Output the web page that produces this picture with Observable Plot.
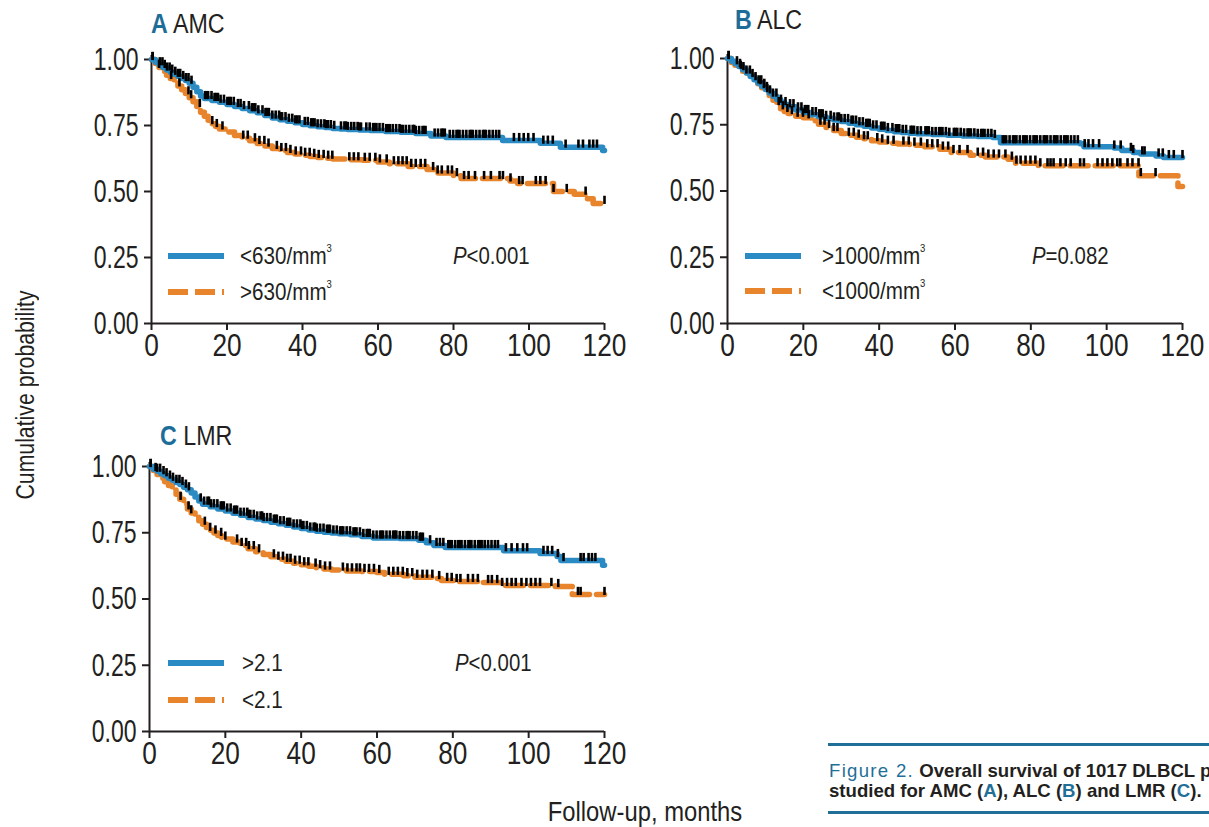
<!DOCTYPE html>
<html><head><meta charset="utf-8">
<script src="https://cdn.jsdelivr.net/npm/d3@7"></script>
<script src="https://cdn.jsdelivr.net/npm/@observablehq/plot@0.6"></script>
<style>
html,body{margin:0;padding:0;background:#fff;width:1209px;height:827px;overflow:hidden;}
body{position:relative;font-family:"Liberation Sans",Arial,sans-serif;color:#231f20;}
.abs{position:absolute;white-space:nowrap;}
.abs > span.n{display:inline-block;transform-origin:left center;}
.panel{position:absolute;}
.panel svg{max-width:none !important;}
.ttl{font-size:27px;line-height:1;}
.ttl b{color:#1c6e99;}
.lg{font-size:24px;line-height:1;transform:translateY(-50%);}
.lg sup{font-size:11px;vertical-align:top;position:relative;top:-1px;}
.sw{position:absolute;}
.cap{font-family:"Liberation Sans",Arial,sans-serif;font-weight:bold;font-size:18.6px;line-height:20px;color:#231f20;}
.cap .b{color:#1f6f98;font-weight:normal;letter-spacing:1.3px;}
.cap .c{color:#1f6f98;}
</style></head><body>
<script>
// ---------------- data ----------------
const xTicks = [0, 20, 40, 60, 80, 100, 120];
const yTicks = [0, 0.25, 0.5, 0.75, 1];

// Panel A: AMC  (Kaplan-Meier step knots [month, survival])
const amcLowSteps = [[0,1],[1,0.99],[2,0.98],[3,0.97],[4,0.96],[5,0.952],[6,0.944],[7,0.936],[8,0.928],[9,0.92],[10,0.91],[11,0.895],[12,0.878],[13,0.862],[14,0.852],[16,0.845],[18,0.838],[20,0.83],[22,0.822],[24,0.814],[26,0.806],[28,0.798],[30,0.788],[32,0.778],[34,0.772],[36,0.766],[38,0.76],[40,0.754],[42,0.749],[44,0.745],[46,0.742],[48,0.739],[50,0.737],[52,0.735],[55,0.733],[58,0.731],[62,0.727],[66,0.724],[70,0.72],[74,0.71],[78,0.705],[93,0.693],[103,0.683],[108.3,0.668],[119.5,0.655],[120,0.655]];
const amcHighSteps = [[0,1],[1,0.985],[2,0.97],[3,0.955],[4,0.94],[5,0.928],[6,0.915],[7,0.9],[8,0.885],[9,0.87],[10,0.855],[11,0.84],[12,0.822],[13,0.8],[14,0.785],[15,0.77],[16,0.757],[17,0.746],[18,0.737],[20,0.725],[22,0.712],[24,0.702],[26,0.692],[28,0.682],[30,0.672],[32,0.663],[34,0.655],[36,0.648],[38,0.642],[40,0.637],[42,0.633],[44,0.629],[46,0.626],[48,0.623],[52,0.62],[56,0.618],[60,0.612],[63,0.605],[68,0.595],[73,0.583],[75,0.57],[80,0.56],[82,0.549],[95,0.54],[97,0.53],[106.5,0.5],[112,0.49],[115.5,0.473],[117,0.455],[120,0.455]];
const amcLowCensor = [0.3,2.2,2.9,3.5,4.1,4.8,5.5,6.3,7.0,7.6,8.4,9.1,9.8,10.6,14.2,14.6,15.0,15.9,16.7,17.1,17.6,18.3,19.2,20.1,20.6,21.0,21.8,22.9,23.6,24.5,25.8,26.6,27.0,27.5,28.3,29.4,30.2,30.6,31.1,32.0,32.9,33.8,34.2,34.6,35.5,36.4,37.3,38.1,38.6,39.2,40.6,41.4,42.3,42.7,43.2,44.0,44.9,45.8,46.2,46.7,47.5,48.4,50.2,51.1,51.5,52.0,52.9,53.7,54.6,55.0,55.5,56.9,57.8,58.7,59.1,59.6,60.4,61.3,62.2,62.6,63.1,63.9,64.8,65.7,66.1,66.6,67.4,68.3,69.2,69.6,70.0,70.9,71.8,72.2,72.6,75.0,75.9,76.8,77.2,77.7,79.0,79.9,80.8,81.2,81.6,82.5,83.4,84.3,84.7,85.1,86.0,86.9,87.8,88.2,88.6,89.5,90.4,91.3,92.1,96.0,97.4,98.6,99.8,101.2,103.8,105.0,106.3,109.7,113.1,114.3,116.0,117.0,118.0];
const amcHighCensor = [0.3,2.0,5.2,7.4,9.8,10.5,12.8,16.1,17.3,18.8,24.3,25.5,27.4,28.6,29.9,31.0,33.2,34.4,35.6,36.8,38.2,39.6,40.7,41.9,43.1,44.3,45.6,46.8,47.9,52.4,53.6,54.8,56.5,57.8,59.3,60.5,62.3,64.2,65.4,66.5,67.6,68.8,70.0,71.3,72.5,74.6,75.8,76.9,78.5,79.6,80.9,82.8,84.0,85.7,88.1,89.9,92.2,93.1,95.1,97.4,98.3,101.8,103.0,104.4,106.5,110.0,115.0,120.0];

// Panel B: ALC
const alcHighSteps = [[0,1],[1,0.99],[2,0.98],[3,0.97],[4,0.958],[5,0.945],[6,0.932],[7,0.92],[8,0.908],[9,0.895],[10,0.883],[11,0.87],[12,0.858],[13,0.845],[14,0.835],[15,0.826],[16,0.818],[18,0.806],[20,0.796],[22,0.788],[24,0.78],[26,0.774],[28,0.768],[30,0.762],[32,0.756],[34,0.75],[36,0.744],[38,0.738],[40,0.733],[42,0.728],[44,0.724],[46,0.721],[48,0.718],[50,0.716],[54,0.713],[58,0.71],[62,0.708],[66,0.706],[70,0.702],[72,0.682],[93,0.678],[94,0.667],[102,0.662],[104,0.653],[107,0.645],[109,0.64],[113,0.632],[115,0.626],[120,0.626]];
const alcLowSteps = [[0,1],[1,0.985],[2,0.975],[3,0.963],[4,0.952],[5,0.945],[6,0.936],[7,0.92],[8,0.905],[9,0.89],[10,0.875],[11,0.86],[12,0.842],[13,0.826],[14,0.81],[15,0.8],[16,0.792],[18,0.782],[20,0.776],[22,0.765],[24,0.752],[26,0.74],[28,0.728],[30,0.717],[32,0.71],[34,0.703],[36,0.697],[38,0.69],[40,0.685],[42,0.68],[45,0.677],[48,0.673],[52,0.667],[56,0.658],[59,0.645],[64,0.635],[68,0.628],[74,0.62],[76,0.605],[82,0.595],[108.5,0.558],[118.8,0.517],[120,0.517]];
const alcHighCensor = [0.3,2.5,3.3,4.2,5.0,5.9,6.6,7.4,8.2,8.9,9.7,10.4,11.2,12.0,12.9,14.1,15.3,16.5,17.4,18.6,19.5,20.4,20.8,21.3,22.4,23.3,24.2,24.6,25.1,26.0,27.2,28.1,29.0,29.4,30.0,30.9,31.8,32.7,33.1,33.9,34.8,35.7,36.6,37.0,37.5,38.4,39.3,40.5,40.9,41.4,42.3,43.5,44.4,44.8,45.3,46.2,47.1,48.3,48.7,49.2,50.1,51.0,52.2,52.6,53.1,54.0,54.9,55.8,56.2,56.7,57.6,58.5,59.7,60.1,60.6,61.5,62.4,63.3,63.7,64.2,65.1,66.0,66.9,67.3,67.8,68.7,69.6,70.5,72.6,73.0,73.5,74.4,75.3,75.7,76.2,77.1,78.0,78.4,78.9,79.8,80.7,81.1,81.6,82.5,83.4,83.8,84.3,85.2,86.1,86.5,87.0,87.9,88.8,89.2,89.7,90.6,91.5,92.4,94.2,95.2,96.4,98.0,102.0,103.7,106.4,107.0,109.4,110.0,113.7,114.8,116.4,117.7,120.0];
const alcLowCensor = [0.3,3.5,8.7,9.6,10.5,13.5,14.6,15.8,17.0,18.5,19.9,21.4,24.5,25.6,26.8,28.0,29.0,32.0,33.3,34.6,36.0,37.0,39.5,40.8,42.3,43.8,46.4,47.8,49.3,51.0,52.7,54.0,55.4,56.8,58.2,59.6,61.2,63.3,66.0,67.4,68.8,70.2,71.6,73.3,75.0,76.2,77.3,78.6,79.9,81.2,82.5,84.4,85.2,86.0,87.8,89.2,90.5,93.0,94.0,97.6,98.9,100.2,101.5,102.8,103.6,105.5,106.8,108.4,109.0,112.9];

// Panel C: LMR
const lmrHighSteps = [[0,1],[1,0.99],[2,0.982],[3,0.973],[4,0.965],[5,0.956],[6,0.948],[7,0.94],[8,0.932],[9,0.922],[10,0.912],[11,0.9],[12,0.885],[13,0.87],[14,0.858],[16,0.848],[18,0.84],[20,0.832],[22,0.824],[24,0.816],[26,0.808],[28,0.802],[30,0.796],[32,0.79],[34,0.784],[36,0.778],[38,0.772],[40,0.766],[42,0.76],[44,0.756],[46,0.752],[48,0.749],[50,0.746],[53,0.742],[56,0.736],[59,0.73],[66,0.728],[71,0.722],[73,0.712],[75,0.702],[78,0.694],[93.4,0.682],[103,0.672],[107.5,0.66],[108.5,0.645],[119.5,0.627],[120,0.627]];
const lmrLowSteps = [[0,1],[1,0.985],[2,0.97],[3,0.956],[4,0.942],[5,0.928],[6,0.913],[7,0.895],[8,0.876],[9,0.858],[10,0.84],[11,0.825],[12,0.81],[13,0.795],[14,0.782],[15,0.77],[16,0.759],[17,0.749],[18,0.74],[19,0.733],[20,0.726],[22,0.715],[24,0.702],[26,0.69],[28,0.678],[30,0.668],[32,0.659],[34,0.65],[36,0.642],[38,0.635],[40,0.629],[42,0.624],[44,0.618],[46,0.613],[48,0.609],[52,0.606],[56,0.604],[60,0.6],[62,0.593],[67,0.588],[70,0.582],[75,0.577],[77,0.57],[81,0.566],[88,0.562],[93,0.551],[107,0.547],[111.5,0.517],[120,0.517]];
const lmrHighCensor = [0.3,2.0,2.8,3.7,4.5,5.4,6.2,7.1,7.9,8.7,9.6,10.4,13.5,14.4,15.3,15.7,16.2,17.0,17.9,18.8,19.2,19.6,20.5,21.4,22.3,22.7,23.1,24.0,24.9,25.8,26.2,26.6,27.5,28.4,29.3,29.7,30.1,31.0,31.9,32.8,33.2,33.6,34.5,35.4,36.3,36.7,37.1,38.0,38.9,39.8,40.2,40.6,41.5,42.4,43.3,43.7,44.1,45.0,45.9,46.8,47.2,47.6,48.5,49.4,50.3,50.7,51.1,52.0,52.9,53.8,54.2,54.6,55.5,56.4,57.3,57.7,58.1,59.0,59.9,60.8,61.2,61.6,62.5,63.4,64.3,64.7,65.1,66.0,66.9,67.8,68.2,68.6,69.5,70.4,71.3,71.7,72.1,74.0,75.7,76.6,77.5,78.8,79.2,79.7,80.6,81.4,81.8,82.3,83.2,84.1,84.5,84.9,85.8,86.7,87.1,87.6,88.4,89.3,90.2,91.1,91.9,94.0,95.5,97.0,98.5,99.6,103.9,105.0,106.2,107.7,109.2,113.7,114.5,115.8,116.7,117.6];
const lmrLowCensor = [0.3,1.6,8.2,10.3,11.0,14.6,16.0,17.4,18.9,20.0,23.1,24.3,25.5,26.2,27.5,28.9,32.8,34.0,35.2,36.3,37.2,38.4,39.6,40.8,41.9,43.8,45.0,46.3,47.6,51.0,52.2,53.4,54.6,55.5,56.7,57.9,59.2,60.6,63.1,64.3,65.5,66.8,68.0,69.3,70.6,72.0,73.2,74.6,76.4,78.5,79.7,81.0,82.0,84.0,85.3,86.6,89.3,90.3,91.7,93.0,94.3,95.5,96.6,98.1,99.4,100.6,101.8,103.0,106.0,107.8,113.0,113.7,120.0];

// ---------------- drawing ----------------
const FONT = '"Liberation Sans",Arial,sans-serif';
const BLUE = "#2a8ac4", ORANGE = "#e8852c", INK = "#231f20";

function survAt(steps, t) {
  let s = 1;
  for (const [tt, ss] of steps) { if (tt <= t) s = ss; else break; }
  return s;
}
function rows(steps) { return steps.map(([t, s]) => ({t, s})); }
function censorRows(steps, times) { return times.map(t => ({t, s: survAt(steps, t)})); }

// narrow the axis labels (the original uses a condensed typeface)
function condense(svg, selector, k) {
  svg.querySelectorAll(selector).forEach(t => {
    const len = t.getComputedTextLength();
    t.setAttribute("textLength", (len * k).toFixed(1));
    t.setAttribute("lengthAdjust", "spacingAndGlyphs");
  });
}

function panel(cfg) {
  const chart = Plot.plot({
    width: cfg.width, height: cfg.height,
    marginLeft: cfg.ml, marginRight: cfg.mr, marginTop: cfg.mt, marginBottom: cfg.mb,
    x: {domain: [0, 120], label: null},
    y: {domain: [0, 1], label: null},
    style: {fontFamily: FONT, fontSize: "32px", color: INK, background: "transparent", overflow: "visible", maxWidth: "none"},
    marks: [
      Plot.axisX({ticks: xTicks, tickSize: 7, tickPadding: 3, label: null, strokeWidth: 2}),
      Plot.axisY({ticks: yTicks, tickSize: 7, tickPadding: 6, label: null, strokeWidth: 2, tickFormat: d3.format(".2f")}),
      Plot.ruleY([0], {stroke: INK, strokeWidth: 2}),
      Plot.ruleX([0], {y1: 0, y2: 1.015, stroke: INK, strokeWidth: 2}),
      Plot.line(rows(cfg.dashed), {x: "t", y: "s", curve: "step-after", stroke: ORANGE, strokeWidth: 5.5, strokeDasharray: "18,7"}),
      Plot.line(rows(cfg.solid), {x: "t", y: "s", curve: "step-after", stroke: BLUE, strokeWidth: 5.5, strokeLinecap: "round"}),
      Plot.ruleX(censorRows(cfg.dashed, cfg.dashedCensor), {x: "t", y1: d => d.s - 0.004, y2: d => d.s + 0.027, stroke: "#000", strokeWidth: 2.6}),
      Plot.ruleX(censorRows(cfg.solid, cfg.solidCensor), {x: "t", y1: d => d.s - 0.004, y2: d => d.s + 0.027, stroke: "#000", strokeWidth: 2.6})
    ]
  });
  const wrap = document.createElement("div");
  wrap.className = "panel";
  wrap.style.left = cfg.left + "px";
  wrap.style.top = cfg.top + "px";
  wrap.style.width = cfg.width + "px";
  wrap.appendChild(chart);
  document.body.appendChild(wrap);
  condense(chart, 'g[aria-label="x-axis tick label"] text', 0.82);
  condense(chart, 'g[aria-label="y-axis tick label"] text', 0.72);
}

// Panel A: origin x=151, x120=604, y1=59, y0=323
panel({left: 40, top: 40, width: 604, height: 323, ml: 111, mr: 40, mt: 19, mb: 40,
  solid: amcLowSteps, dashed: amcHighSteps, solidCensor: amcLowCensor, dashedCensor: amcHighCensor});
// Panel B: origin x=727, x120=1182, y1=58, y0=323
panel({left: 620, top: 40, width: 589, height: 323, ml: 107, mr: 27, mt: 18, mb: 40,
  solid: alcHighSteps, dashed: alcLowSteps, solidCensor: alcHighCensor, dashedCensor: alcLowCensor});
// Panel C: origin x=149, x120=604, y1=466, y0=731
panel({left: 40, top: 446, width: 604, height: 325, ml: 109, mr: 40, mt: 20, mb: 40,
  solid: lmrHighSteps, dashed: lmrLowSteps, solidCensor: lmrHighCensor, dashedCensor: lmrLowCensor});

// ---------------- text, legends ----------------
function add(html, cls, style, k) {
  const d = document.createElement("div");
  d.className = "abs " + cls;
  d.innerHTML = k ? `<span class="n" style="transform:scaleX(${k})">${html}</span>` : html;
  Object.assign(d.style, style);
  document.body.appendChild(d);
  return d;
}
function swatch(x, y, color, dashed) {
  const s = document.createElementNS("http://www.w3.org/2000/svg", "svg");
  s.setAttribute("width", 58); s.setAttribute("height", 10);
  s.setAttribute("class", "sw");
  s.style.left = x + "px"; s.style.top = (y - 5) + "px";
  s.innerHTML = `<line x1="0" x2="56" y1="5" y2="5" stroke="${color}" stroke-width="6" ${dashed ? 'stroke-dasharray="20,7"' : ''}/>`;
  document.body.appendChild(s);
}

// titles
add('<b>A</b> AMC', "ttl", {left: "151px", top: "11px"}, 0.86);
add('<b>B</b> ALC', "ttl", {left: "735px", top: "7px"}, 0.86);
add('<b>C</b> LMR', "ttl", {left: "160px", top: "423px"}, 0.86);

// legends A
swatch(168, 256, BLUE, false);
add('&lt;630/mm<sup>3</sup>', "lg", {left: "240px", top: "256px"}, 0.86);
add('<i>P</i>&lt;0.001', "lg", {left: "453px", top: "256px"}, 0.85);
swatch(168, 292, ORANGE, true);
add('&gt;630/mm<sup>3</sup>', "lg", {left: "240px", top: "292px"}, 0.86);
// legends B
swatch(745, 256, BLUE, false);
add('&gt;1000/mm<sup>3</sup>', "lg", {left: "822px", top: "256px"}, 0.86);
add('<i>P</i>=0.082', "lg", {left: "1032px", top: "256px"}, 0.85);
swatch(745, 291, ORANGE, true);
add('&lt;1000/mm<sup>3</sup>', "lg", {left: "822px", top: "291px"}, 0.86);
// legends C
swatch(168, 663, BLUE, false);
add('&gt;2.1', "lg", {left: "242px", top: "663px"}, 0.86);
add('<i>P</i>&lt;0.001', "lg", {left: "455px", top: "663px"}, 0.85);
swatch(168, 700, ORANGE, true);
add('&lt;2.1', "lg", {left: "242px", top: "700px"}, 0.86);

// axis titles
add('<span class="n" style="transform:scaleX(0.85);transform-origin:center">Cumulative probability</span>', "", {left: "25px", top: "395px", fontSize: "25px", transform: "translate(-50%,-50%) rotate(-90deg)"});
add('<span class="n" style="transform:scaleX(0.85);transform-origin:center">Follow-up, months</span>', "", {left: "645px", top: "812px", fontSize: "28px", transform: "translate(-50%,-50%)"});

// caption
add('', "", {left: "828px", top: "743px", width: "381px", height: "3px", background: "#1f6f98"});
add('<span class="b">Figure 2.</span> Overall survival of 1017 DLBCL patients<br>studied for AMC (<span class="c">A</span>), ALC (<span class="c">B</span>) and LMR (<span class="c">C</span>).', "cap", {left: "829px", top: "761px"});
add('', "", {left: "828px", top: "811px", width: "381px", height: "3px", background: "#1f6f98"});
</script>
</body></html>
